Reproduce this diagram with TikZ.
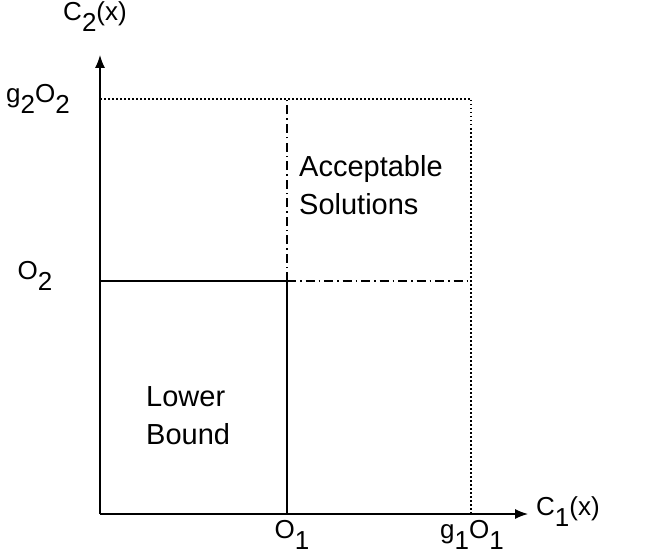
\documentclass[tikz,border=0pt]{standalone}
\usepackage{fontspec}
\setmainfont{Liberation Sans}
\usetikzlibrary{arrows.meta}
\newcommand\sbx[1]{\raisebox{-0.42em}{#1}}
\begin{document}
\begin{tikzpicture}[x=1pt,y=-1pt,
  lbl/.style={font=\fontsize{26}{30}\selectfont, inner sep=0pt},
  txt/.style={font=\fontsize{29}{38}\selectfont, inner sep=0pt, align=left, anchor=north west},
  axis/.style={line width=1.3pt, -{Latex[length=13pt,width=10pt]}},
  solidln/.style={line width=1.3pt},
  dotln/.style={line width=1.3pt, dash pattern=on 1.5pt off 2.5pt},
  dashdotln/.style={line width=1.3pt, dash pattern=on 9pt off 4pt on 1.5pt off 4pt}]
\useasboundingbox (0,0) rectangle (653,559);
\coordinate (o) at (100,514);
\coordinate (ytip) at (100,55);
\coordinate (xtip) at (528,514);
\coordinate (o1) at (287,514);
\coordinate (g1) at (471,514);
\coordinate (o2) at (100,281);
\coordinate (g2) at (100,99);
\coordinate (m) at (287,281);
\coordinate (mg) at (287,99);
\coordinate (r2) at (471,281);
\coordinate (rg) at (471,99);
\draw[axis] (o) -- (ytip);
\draw[axis] (o) -- (xtip);
\draw[solidln] (o2) -- (m) -- (o1);
\draw[dashdotln] (m) -- (mg);
\draw[dashdotln] (m) -- (r2);
\draw[dotln] (g2) -- (rg) -- (g1);
\node[lbl] (c2) at (95,17) {C\sbx{2}(x)};
\node[lbl, anchor=west] (c1) at (536,512) {C\sbx{1}(x)};
\node[lbl] (lg2) at (38,99) {g\sbx{2}O\sbx{2}};
\node[lbl] (lo2) at (35,276) {O\sbx{2}};
\node[lbl] (lo1) at (292,535) {O\sbx{1}};
\node[lbl] (lg1) at (472,535) {g\sbx{1}O\sbx{1}};
\node[txt] (acc) at (299,155) {Acceptable\\Solutions};
\node[txt] (low) at (146,386) {Lower\\Bound};
\end{tikzpicture}
\end{document}
